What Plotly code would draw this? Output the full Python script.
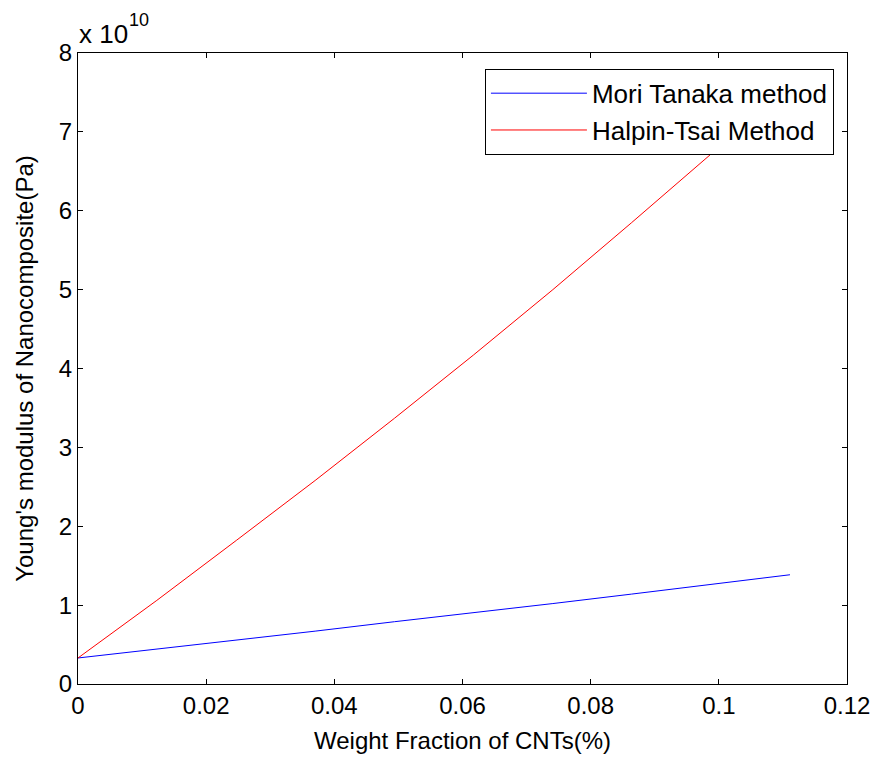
import plotly.graph_objects as go

# Weight fraction of CNTs
weight_fraction = [0, 0.0123, 0.0247, 0.037, 0.0494, 0.0617, 0.0741, 0.0864, 0.0988, 0.1111]
# Young's modulus, in units of 1e10 Pa
mori_tanaka = [0.33, 0.44, 0.56, 0.67, 0.79, 0.90, 1.02, 1.14, 1.26, 1.385]
halpin_tsai = [0.33, 1.06, 1.82, 2.58, 3.37, 4.17, 5.00, 5.85, 6.72, 7.60]

x_ticks = [0, 0.02, 0.04, 0.06, 0.08, 0.1, 0.12]
x_tick_text = ["0", "0.02", "0.04", "0.06", "0.08", "0.1", "0.12"]
y_ticks = [0, 1, 2, 3, 4, 5, 6, 7, 8]
y_tick_text = ["0", "1", "2", "3", "4", "5", "6", "7", "8"]

FONT = "Liberation Sans, Arial, sans-serif"
FS = 24

fig = go.Figure()
fig.add_trace(go.Scatter(x=weight_fraction, y=mori_tanaka, mode="lines",
                         name="Mori Tanaka method",
                         line=dict(color="#0000ff", width=1)))
fig.add_trace(go.Scatter(x=weight_fraction, y=halpin_tsai, mode="lines",
                         name="Halpin-Tsai Method",
                         line=dict(color="#ff0000", width=1)))

axis_common = dict(showline=True, linecolor="black", linewidth=1, mirror="ticks",
                   ticks="inside", ticklen=5, tickcolor="black", tickwidth=1,
                   showgrid=False, zeroline=False, automargin=False,
                   tickfont=dict(family=FONT, size=FS, color="black"))

fig.update_xaxes(range=[0, 0.12], tickvals=x_ticks, ticktext=x_tick_text,
                 title=dict(text="Weight Fraction of CNTs(%)",
                            font=dict(family=FONT, size=FS, color="black"),
                            standoff=14),
                 **axis_common)
fig.update_yaxes(range=[0, 8], tickvals=y_ticks, ticktext=y_tick_text,
                 title=dict(text="Young's modulus of Nanocomposite(Pa)",
                            font=dict(family=FONT, size=FS, color="black"),
                            standoff=18),
                 **axis_common)

fig.add_annotation(xref="paper", yref="paper", x=0, y=1, xanchor="left", yanchor="bottom",
                   yshift=2, xshift=-1, showarrow=False, text="x 10",
                   font=dict(family=FONT, size=26, color="black"))
fig.add_annotation(xref="paper", yref="paper", x=0, y=1, xanchor="left", yanchor="bottom",
                   yshift=21, xshift=49, showarrow=False, text="10",
                   font=dict(family=FONT, size=18, color="black"))

fig.update_layout(
    width=875, height=758,
    margin=dict(l=78, r=28, t=53, b=74),
    paper_bgcolor="white", plot_bgcolor="white",
    font=dict(family=FONT, size=FS, color="black"),
    showlegend=True,
    legend=dict(x=0.983, y=0.975, xanchor="right", yanchor="top",
                bordercolor="black", borderwidth=1, bgcolor="white",
                font=dict(family=FONT, size=26, color="black"),
                itemwidth=96, tracegroupgap=0),
)

fig.write_html("out.html")
